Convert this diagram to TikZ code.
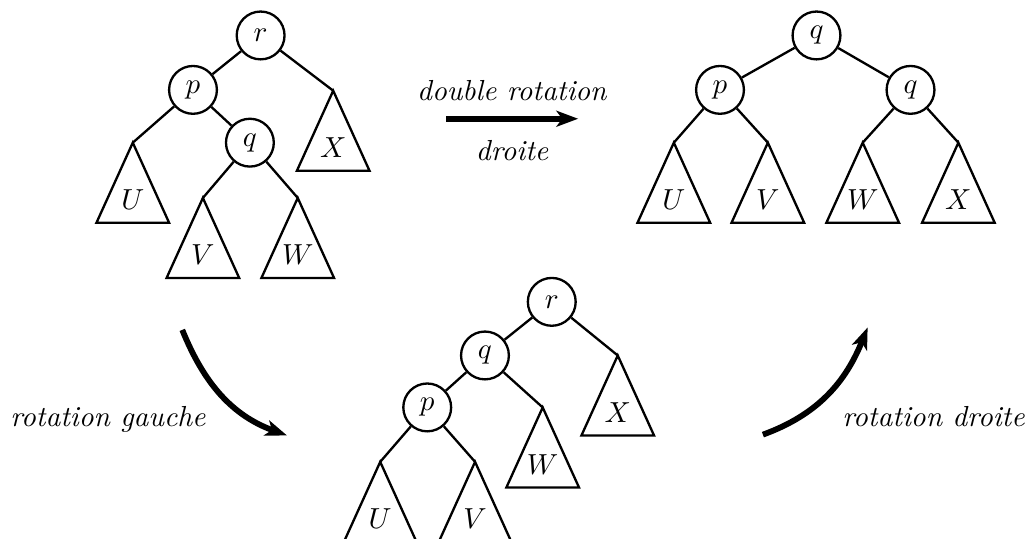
\documentclass[tikz,border=0pt]{standalone}
\usepackage{amsmath}
\usetikzlibrary{arrows.meta}

% sous-arbre triangulaire accroche au sommet #1
\newcommand{\sousarbre}[2]{%
  \draw[thick] (#1) -- ++(-0.44,-0.97) -- ++(0.88,0) -- cycle;
  \node (#1-nom) at ([yshift=-0.69cm]#1) {$#2$};
}

\begin{document}
\begin{tikzpicture}[
    noeud/.style={circle, draw, thick, minimum size=0.58cm, inner sep=0pt},
    arete/.style={thick},
    fleche/.style={-{Stealth[length=7.5pt, width=5.5pt, inset=2pt]}, line width=2pt}
  ]
    \useasboundingbox (0, 0) rectangle (12.44, 6.53);
    \clip (0, 0) rectangle (12.44, 6.53);

    % Arbre de depart
    \node[noeud] (r1) at (3.16, 6.10) {$r$};
    \node[noeud] (p1) at (2.34, 5.44) {$p$};
    \node[noeud] (q1) at (3.03, 4.80) {$q$};
    \coordinate (U1) at (1.61, 4.80);
    \coordinate (V1) at (2.46, 4.13);
    \coordinate (W1) at (3.61, 4.13);
    \coordinate (X1) at (4.04, 5.43);
    \draw[arete] (r1) -- (p1);
    \draw[arete] (r1) -- (X1);
    \draw[arete] (p1) -- (U1);
    \draw[arete] (p1) -- (q1);
    \draw[arete] (q1) -- (V1);
    \draw[arete] (q1) -- (W1);
    \sousarbre{U1}{U}
    \sousarbre{V1}{V}
    \sousarbre{W1}{W}
    \sousarbre{X1}{X}

    % Arbre final
    \node[noeud] (q2) at (9.90, 6.10) {$q$};
    \node[noeud] (p2) at (8.73, 5.44) {$p$};
    \node[noeud] (q2b) at (11.04, 5.44) {$q$};
    \coordinate (U2) at (8.17, 4.80);
    \coordinate (V2) at (9.31, 4.80);
    \coordinate (W2) at (10.46, 4.80);
    \coordinate (X2) at (11.62, 4.80);
    \draw[arete] (q2) -- (p2);
    \draw[arete] (q2) -- (q2b);
    \draw[arete] (p2) -- (U2);
    \draw[arete] (p2) -- (V2);
    \draw[arete] (q2b) -- (W2);
    \draw[arete] (q2b) -- (X2);
    \sousarbre{U2}{U}
    \sousarbre{V2}{V}
    \sousarbre{W2}{W}
    \sousarbre{X2}{X}

    % Arbre intermediaire
    \node[noeud] (r3) at (6.69, 2.87) {$r$};
    \node[noeud] (q3) at (5.88, 2.22) {$q$};
    \node[noeud] (p3) at (5.18, 1.59) {$p$};
    \coordinate (U3) at (4.61, 0.93);
    \coordinate (V3) at (5.76, 0.93);
    \coordinate (W3) at (6.58, 1.59);
    \coordinate (X3) at (7.49, 2.22);
    \draw[arete] (r3) -- (q3);
    \draw[arete] (r3) -- (X3);
    \draw[arete] (q3) -- (p3);
    \draw[arete] (q3) -- (W3);
    \draw[arete] (p3) -- (U3);
    \draw[arete] (p3) -- (V3);
    \sousarbre{U3}{U}
    \sousarbre{V3}{V}
    \sousarbre{W3}{W}
    \sousarbre{X3}{X}

    % Fleches
    \coordinate (dd) at (5.41, 5.09);
    \coordinate (df) at (7.01, 5.09);
    \draw[fleche] (dd) -- (df)
        node[midway, above=2pt] (double) {\textit{double rotation}}
        node[midway, below=3pt] (droite) {\textit{droite}};

    \coordinate (gd) at (2.21, 2.53);
    \coordinate (gf) at (3.48, 1.25);
    \draw[fleche] (gd) to[out=-68, in=160] (gf);
    \node[anchor=base] (gauche) at (1.31, 1.36) {\textit{rotation gauche}};

    \coordinate (rd) at (9.25, 1.26);
    \coordinate (rf) at (10.52, 2.56);
    \draw[fleche] (rd) to[out=20, in=-112] (rf);
    \node[anchor=base] (dte) at (11.32, 1.36) {\textit{rotation droite}};
\end{tikzpicture}
\end{document}
